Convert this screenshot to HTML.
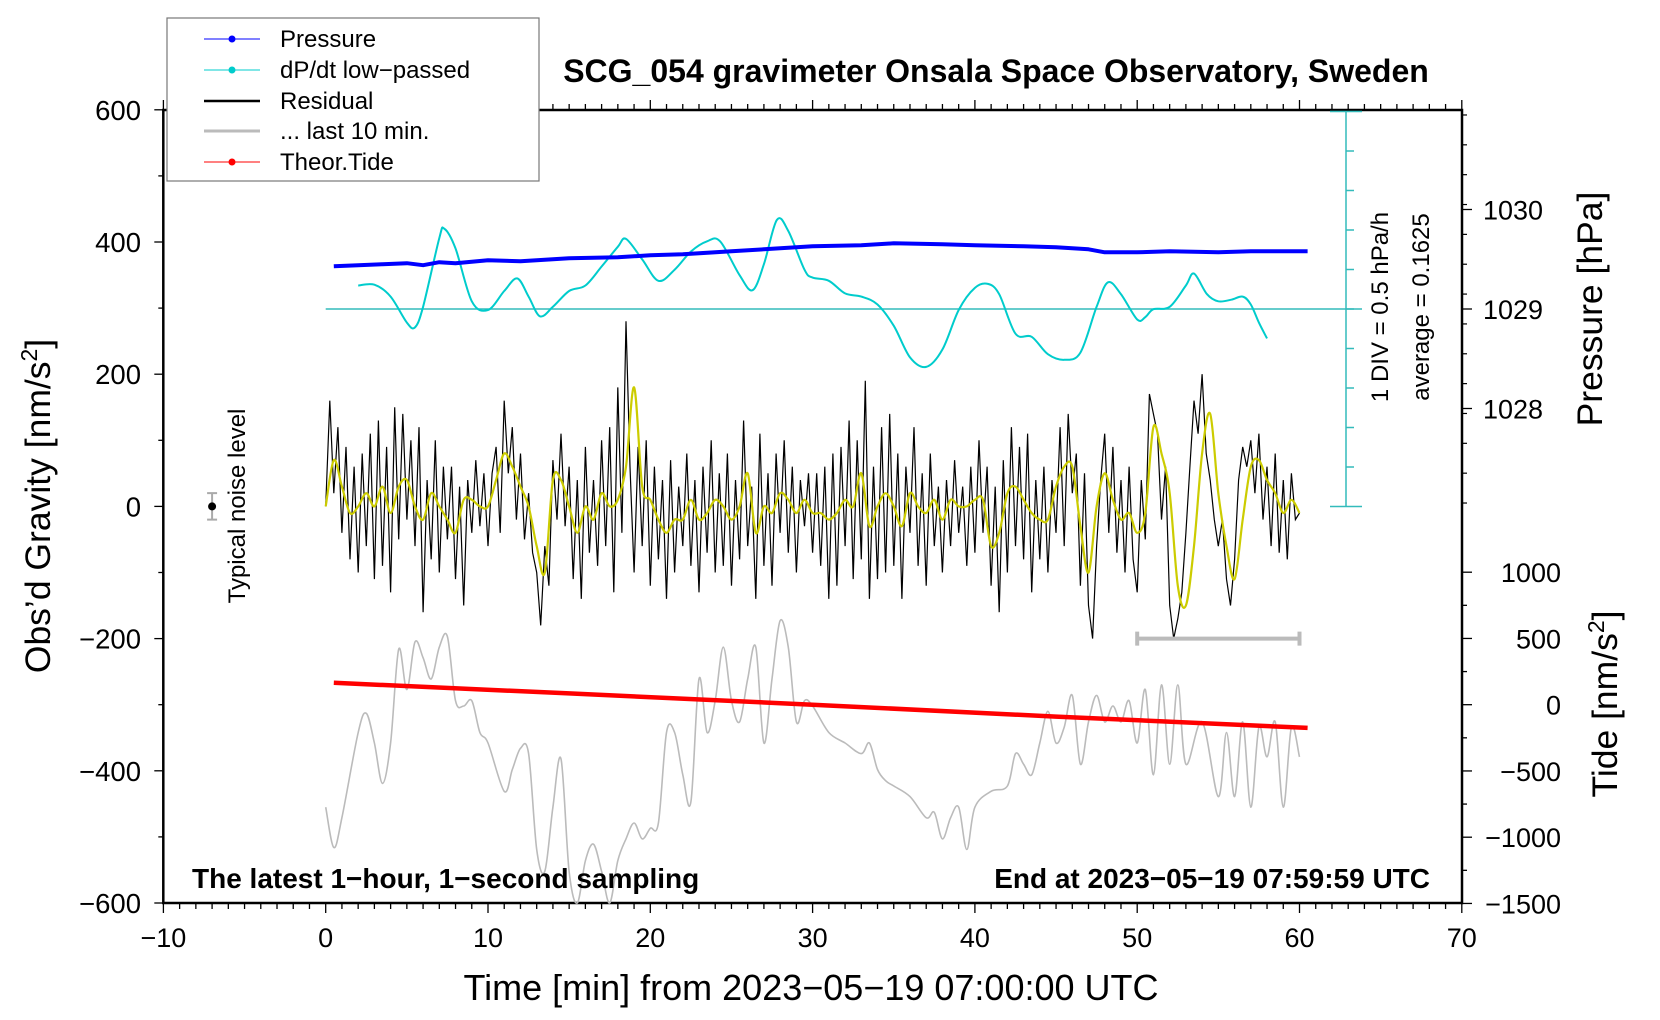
<!DOCTYPE html>
<html><head><meta charset="utf-8"><style>
body{margin:0;background:#fff;}
svg{display:block;font-family:"Liberation Sans",sans-serif;}
</style></head><body>
<svg id="chart" width="1660" height="1020" viewBox="0 0 1660 1020" xmlns="http://www.w3.org/2000/svg">
<rect x="0" y="0" width="1660" height="1020" fill="#fff"/>
<g id="axes"></g>
<g id="marks"></g>
<text x="996" y="82" font-size="32" font-weight="bold" text-anchor="middle">SCG_054 gravimeter Onsala Space Observatory, Sweden</text>
<text transform="translate(50,506) rotate(-90)" font-size="35.5" text-anchor="middle">Obs’d Gravity [nm/s<tspan font-size="23" dy="-13">2</tspan><tspan dy="13">]</tspan></text>
<text x="811" y="1000" font-size="36" text-anchor="middle">Time [min] from 2023−05−19 07:00:00 UTC</text>
<text transform="translate(1602,309) rotate(-90)" font-size="35.5" text-anchor="middle">Pressure [hPa]</text>
<text transform="translate(1617,704) rotate(-90)" font-size="35.5" text-anchor="middle">Tide [nm/s<tspan font-size="23" dy="-13">2</tspan><tspan dy="13">]</tspan></text>
<text transform="translate(1388,307) rotate(-90)" font-size="24" text-anchor="middle">1 DIV = 0.5 hPa/h</text>
<text transform="translate(1429,307) rotate(-90)" font-size="24" text-anchor="middle">average = 0.1625</text>
<text transform="translate(245,506) rotate(-90)" font-size="24" text-anchor="middle">Typical noise level</text>
<text x="192" y="888" font-size="28" font-weight="bold">The latest 1−hour, 1−second sampling</text>
<text x="1430" y="888" font-size="28" font-weight="bold" text-anchor="end">End at 2023−05−19 07:59:59 UTC</text>
<g>
<rect x="167" y="18" width="372" height="163" fill="#fff" stroke="#777" stroke-width="1.2"/>
<g><line x1="204" y1="39" x2="260" y2="39" stroke="#00f" stroke-width="1"/><circle cx="232" cy="39" r="3.5" fill="#00f"/><text x="280" y="47" font-size="24">Pressure</text></g>
<g><line x1="204" y1="70" x2="260" y2="70" stroke="#0cc" stroke-width="1"/><circle cx="232" cy="70" r="3.5" fill="#0cc"/><text x="280" y="78" font-size="24">dP/dt low−passed</text></g>
<g><line x1="204" y1="101" x2="260" y2="101" stroke="#000" stroke-width="2.5"/><text x="280" y="109" font-size="24">Residual</text></g>
<g><line x1="204" y1="131" x2="260" y2="131" stroke="#bbb" stroke-width="3"/><text x="280" y="139" font-size="24">... last 10 min.</text></g>
<g><line x1="204" y1="162" x2="260" y2="162" stroke="#f00" stroke-width="1"/><circle cx="232" cy="162" r="3.5" fill="#f00"/><text x="280" y="170" font-size="24">Theor.Tide</text></g>
</g>
</svg>
<script>
// ---- data ----
const xTicks = [-10,0,10,20,30,40,50,60,70];
const yTicks = [600,400,200,0,-200,-400,-600];
const pTicks = [1030,1029,1028];
const tideTicks = [1000,500,0,-500,-1000,-1500];
const pressureTime = [0.5,2,3.5,5,6,7,8,10,12,15,18,20,22,25,27,30,33,35,38,40,43,45,47,48,50,52,55,57,60.5];
const pressureVal = [1029.43,1029.44,1029.45,1029.46,1029.44,1029.47,1029.46,1029.49,1029.48,1029.51,1029.52,1029.54,1029.55,1029.58,1029.60,1029.63,1029.64,1029.66,1029.65,1029.64,1029.63,1029.62,1029.60,1029.57,1029.57,1029.58,1029.57,1029.58,1029.58];
const dpdtTime = [2,3,4,5,5.5,6,7,7.3,8,9,10,11,11.8,12.5,13.2,14,15,16,17,18,18.5,19.5,20.5,21.5,22.5,23.5,24.3,25.5,26.3,27,27.8,28.5,29.5,30,31,32,33,34,35,36,37,38,39,40,40.8,41.5,42.5,43.5,44.5,45.5,46.5,47.5,48.2,49,50,50.5,51,52,53,53.5,54.3,55,55.8,56.5,57,57.5,58];
const dpdtVal = [0.46,0.47,0.32,-0.01,-0.07,0.19,1.06,1.18,0.93,0.26,0.15,0.39,0.55,0.32,0.07,0.19,0.39,0.46,0.70,0.95,1.05,0.79,0.52,0.66,0.89,1.02,1.02,0.59,0.40,0.73,1.29,1.15,0.66,0.56,0.52,0.36,0.32,0.22,-0.05,-0.45,-0.57,-0.35,0.15,0.43,0.48,0.35,-0.15,-0.19,-0.41,-0.48,-0.39,0.19,0.50,0.35,0.03,0.06,0.16,0.19,0.46,0.61,0.35,0.26,0.28,0.32,0.22,-0.01,-0.21];
const dpdtAverage = 0.1625;
const residualStep = 0.25;
const residualVal = [
0,160,20,120,-40,90,-80,60,-100,80,-60,110,-110,130,-90,90,-130,150,-50,140,
-20,100,-60,120,-160,40,-80,100,-100,60,-50,60,-110,30,-150,40,-40,70,-30,50,
-60,50,90,-40,160,50,120,-20,80,-50,20,-70,-100,-180,-60,-120,70,-20,110,-30,
60,-110,40,-140,90,-70,40,-90,100,-60,120,-130,180,-40,280,60,-100,90,-60,100,
-120,60,-80,40,-140,70,-100,30,-60,80,-90,40,-130,60,-70,100,-100,50,-90,80,
-120,40,-80,130,-60,30,-140,110,-90,50,-120,80,-40,100,-70,60,-100,40,-30,50,
-70,50,-90,60,-140,80,-120,90,-60,130,-110,100,-80,190,-140,60,-110,120,-100,140,
-90,80,-140,60,-40,120,-90,50,-120,80,-60,30,-100,40,-60,70,-40,30,-90,60,
-70,100,-40,60,-120,30,-160,70,-100,120,-60,90,-80,110,-130,40,-80,60,-100,40,
-40,120,-60,140,20,80,-120,50,-150,-200,-60,40,110,-40,90,-70,40,-100,60,-80,
-130,40,-50,170,140,110,-20,60,-150,-200,-170,-130,-40,60,160,110,200,80,40,-20,
-60,-20,-110,-150,-80,40,90,60,100,20,110,-20,60,-60,80,-70,40,-80,50,-20,-10];
const smoothStep = 0.5;
const smoothVal = [
0,70,30,-10,0,20,0,30,-10,30,
40,0,-20,20,0,-20,-40,10,10,0,
0,40,80,60,30,0,-60,-100,40,40,
0,-40,0,-20,20,0,10,60,180,30,
10,-20,-40,-20,-20,10,-20,-10,10,0,
-20,0,50,-40,0,-10,20,10,-10,10,
-10,-10,-20,-10,10,0,50,-30,0,20,
0,-30,20,0,-10,10,-20,10,0,0,
10,10,-60,-40,20,30,10,-10,-20,-20,
30,60,60,-30,-100,0,50,10,-20,-10,
-40,-10,120,80,20,-120,-150,-60,80,140,
20,-60,-110,-20,60,70,40,20,-10,10,-10];
const grayTime = [0,0.5,1,2,2.5,3,3.5,4,4.5,5,5.5,6,6.5,7,7.5,8,8.5,9,9.5,10,11,11.5,12,12.5,13,13.5,14,14.5,15,15.5,16,16.5,17,17.5,18,18.5,19,19.5,20,20.5,21,21.5,22,22.5,23,23.5,24,24.5,25,25.5,26,26.5,27,27.5,28,28.5,29,29.5,30,31,32,33,33.5,34,34.5,35,36,37,37.5,38,38.5,39,39.5,40,41,42,42.5,43,43.5,44,44.5,45,45.5,46,46.5,47,47.5,48,48.5,49,49.5,50,50.5,51,51.5,52,52.5,53,54,55,55.5,56,56.5,57,57.5,58,58.5,59,59.5,60];
const grayVal = [-455,-516,-471,-342,-313,-358,-419,-358,-216,-277,-205,-229,-261,-213,-197,-294,-302,-294,-342,-358,-431,-398,-366,-374,-519,-552,-455,-382,-552,-600,-536,-511,-552,-600,-536,-503,-479,-503,-487,-479,-342,-342,-406,-447,-261,-342,-294,-213,-294,-326,-261,-213,-358,-261,-173,-213,-326,-294,-302,-342,-358,-374,-358,-398,-415,-423,-439,-471,-463,-503,-471,-455,-519,-455,-431,-423,-374,-390,-406,-358,-310,-358,-334,-286,-390,-326,-286,-326,-302,-326,-294,-358,-277,-406,-270,-390,-270,-390,-326,-439,-342,-439,-326,-455,-334,-379,-326,-455,-334,-379];
const tideTime = [0.5,15,30,45,60.5];
const tideVal = [165,85,0,-90,-175];
const noiseT = -7, noiseLevel = 20;
const barStart = 50, barEnd = 60, barLevel = -200;

// ---- scales ----
const X = t => 325.7 + t*16.23;
const Y = g => 506.4 - g*0.661;
const P = p => 309 - (p-1029)*99.5;
const D = v => 309 - (v-dpdtAverage)*79;
const T = v => 704.7 - v*0.1325;
const NS="http://www.w3.org/2000/svg";
const axes=document.getElementById('axes'), marks=document.getElementById('marks');
function mk(parent,tag,attrs){const e=document.createElementNS(NS,tag);for(const k in attrs)e.setAttribute(k,attrs[k]);parent.appendChild(e);return e;}
function poly(xs,ys){return xs.map((x,i)=>x.toFixed(1)+','+ys[i].toFixed(1)).join(' ');}
function smooth(xs,ys){
  let d='M'+xs[0].toFixed(1)+','+ys[0].toFixed(1);
  for(let i=0;i<xs.length-1;i++){
    const x0=xs[Math.max(i-1,0)],y0=ys[Math.max(i-1,0)],x1=xs[i],y1=ys[i],x2=xs[i+1],y2=ys[i+1],x3=xs[Math.min(i+2,xs.length-1)],y3=ys[Math.min(i+2,xs.length-1)];
    d+=`C${(x1+(x2-x0)/6).toFixed(1)},${(y1+(y2-y0)/6).toFixed(1)} ${(x2-(x3-x1)/6).toFixed(1)},${(y2-(y3-y1)/6).toFixed(1)} ${x2.toFixed(1)},${y2.toFixed(1)}`;
  }
  return d;
}

let fr=mk(axes,'rect',{x:163.3,y:110,width:1298.7,height:793,fill:'none',stroke:'#000','stroke-width':2.5});


for(let t=-10;t<=70;t++){
  const major=t%10===0, L=major?10:6;
  let a=mk(axes,'line',{x1:X(t),x2:X(t),y1:903,y2:903+L,stroke:'#000','stroke-width':1.3});
  
  
  let b=mk(axes,'line',{x1:X(t),x2:X(t),y1:110,y2:110-L,stroke:'#000','stroke-width':1.3});
  
  
}
xTicks.forEach(t=>{
  let e=mk(axes,'text',{x:X(t),y:947,'font-size':27,'text-anchor':'middle'});
  e.textContent=(t<0?'−':'')+Math.abs(t);
  
  
});
for(let g=-600;g<=600;g+=100){
  let a=mk(axes,'line',{x1:163.3,x2:163.3-(g%200===0?9:5),y1:Y(g),y2:Y(g),stroke:'#000','stroke-width':1.3});
  
  
}
yTicks.forEach(g=>{
  let e=mk(axes,'text',{x:141,y:Y(g)+10,'font-size':27.5,'text-anchor':'end'});
  e.textContent=(g<0?'−':'')+Math.abs(g);
  
  
});
for(let p=1027.05;p<=1030.99;p+=0.3){
  let a=mk(axes,'line',{x1:1462,x2:1467,y1:P(p),y2:P(p),stroke:'#000','stroke-width':1.2});
  
  
}
pTicks.forEach(p=>{
  let a=mk(axes,'line',{x1:1462,x2:1472,y1:P(p),y2:P(p),stroke:'#000','stroke-width':1.3});
  
  
  let e=mk(axes,'text',{x:1483,y:P(p)+10,'font-size':27});
  e.textContent=p;
  
  
});
for(let v=-1500;v<=1000;v+=250){
  let a=mk(axes,'line',{x1:1462,x2:1462+(v%500===0?10:5),y1:T(v),y2:T(v),stroke:'#000','stroke-width':1.3});
  
  
}
tideTicks.forEach(v=>{
  let e=mk(axes,'text',{x:1561,y:T(v)+10,'font-size':27,'text-anchor':'end'});
  e.textContent=(v<0?'−':'')+Math.abs(v);
  
  
});
const dpdtAxisX=1346;
let da=mk(axes,'line',{x1:dpdtAxisX,x2:dpdtAxisX,y1:D(dpdtAverage+2.5),y2:D(dpdtAverage-2.5),stroke:'#3bb','stroke-width':1.5});


for(let k=-5;k<=5;k++){
  const v=dpdtAverage+k*0.5, cap=Math.abs(k)===5;
  let a=mk(axes,'line',{x1:cap?1330:dpdtAxisX,x2:cap?1362:dpdtAxisX+8,y1:D(v),y2:D(v),stroke:'#3bb','stroke-width':1.5});
  
  
}
let avg=mk(axes,'line',{x1:X(0),x2:1362,y1:D(dpdtAverage),y2:D(dpdtAverage),stroke:'#3bb','stroke-width':1.5});



// ---- marks ----
let gl=mk(marks,'path',{d:smooth(grayTime.map(X),grayVal.map(Y)),fill:'none',stroke:'#bbb','stroke-width':1.6});


let tl=mk(marks,'polyline',{points:poly(tideTime.map(X),tideVal.map(T)),fill:'none',stroke:'#f00','stroke-width':4.5});


let rl=mk(marks,'polyline',{points:poly(residualVal.map((v,i)=>X(i*residualStep)),residualVal.map(Y)),fill:'none',stroke:'#000','stroke-width':1.2});


let sl=mk(marks,'path',{d:smooth(smoothVal.map((v,i)=>X(i*smoothStep)),smoothVal.map(Y)),fill:'none',stroke:'#cc0','stroke-width':2.2});


let cl=mk(marks,'path',{d:smooth(dpdtTime.map(X),dpdtVal.map(D)),fill:'none',stroke:'#0cc','stroke-width':2});


let pl=mk(marks,'polyline',{points:poly(pressureTime.map(X),pressureVal.map(P)),fill:'none',stroke:'#00f','stroke-width':4,'stroke-linejoin':'round'});


let nb=mk(marks,'path',{d:`M${X(noiseT)-5},${Y(noiseLevel)}h10M${X(noiseT)},${Y(noiseLevel)}V${Y(-noiseLevel)}M${X(noiseT)-5},${Y(-noiseLevel)}h10`,stroke:'#aaa','stroke-width':2,fill:'none'});


let nd=mk(marks,'circle',{cx:X(noiseT),cy:Y(0),r:4,fill:'#000'});


let tb=mk(marks,'path',{d:`M${X(barStart)},${Y(barLevel)-7}v14M${X(barStart)},${Y(barLevel)}H${X(barEnd)}M${X(barEnd)},${Y(barLevel)-7}v14`,stroke:'#bbb','stroke-width':4,fill:'none'});


</script>
</body></html>
